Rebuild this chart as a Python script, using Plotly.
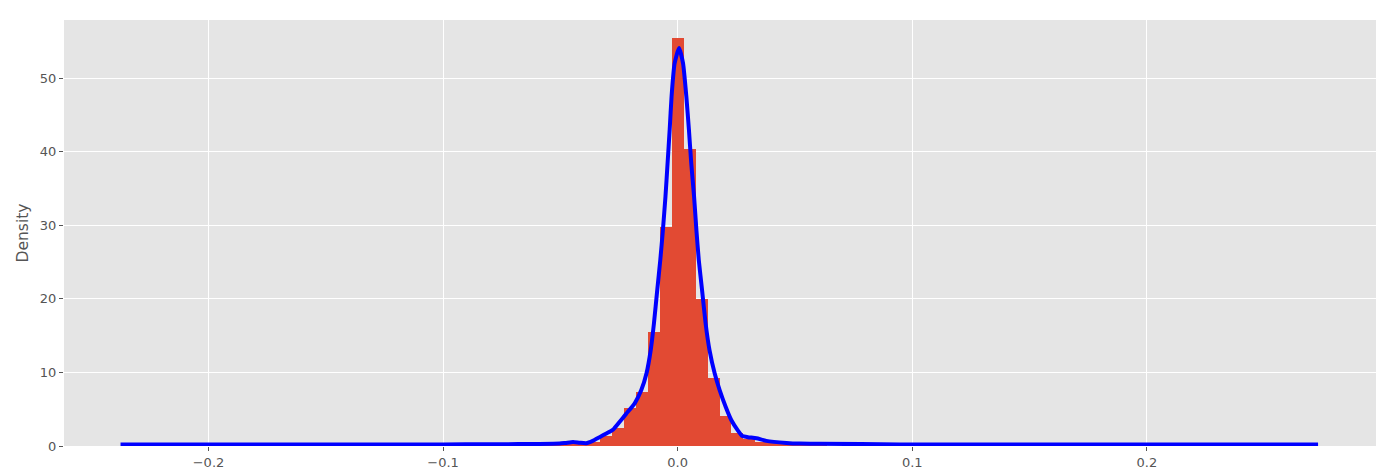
import plotly.graph_objects as go

# Histogram (density)
bin_centers = [-0.0612, -0.0561, -0.0510, -0.0459, -0.0408, -0.0357, -0.0306, -0.0255,
               -0.0204, -0.0153, -0.0102, -0.0051, 0.0, 0.0051, 0.0102, 0.0153, 0.0204,
               0.0255, 0.0306, 0.0357, 0.0408, 0.0459, 0.0510, 0.0561, 0.0612]
density = [0.1, 0.15, 0.2, 0.3, 0.4, 0.5, 1.3, 2.5, 5.1, 7.35, 15.5, 29.8, 55.4,
           40.3, 20.0, 9.3, 4.1, 1.7, 1.0, 0.6, 0.4, 0.3, 0.2, 0.15, 0.1]

# KDE curve
kde_x = [-0.2375, -0.20, -0.15, -0.10, -0.08, -0.068, -0.059, -0.0503, -0.0478, -0.0446,
         -0.0418, -0.0390, -0.0362, -0.0333, -0.0304, -0.0276, -0.0247, -0.0219, -0.0183,
         -0.0155, -0.0133, -0.0115, -0.0101, -0.0087, -0.0074, -0.0063, -0.0052, -0.0043,
         -0.0034, -0.0026, -0.0013, 0.0006, 0.0023, 0.0037, 0.0048, 0.0058, 0.0070,
         0.0080, 0.0090, 0.0104, 0.0119, 0.0136, 0.0158, 0.0179, 0.0205, 0.0229, 0.0257,
         0.0276, 0.0299, 0.0336, 0.0378, 0.0464, 0.0520, 0.0606, 0.0947, 0.15, 0.20, 0.273]
kde_y = [0.2, 0.2, 0.2, 0.22, 0.24, 0.26, 0.28, 0.33, 0.42, 0.55, 0.45, 0.38, 0.7, 1.2,
         1.7, 2.2, 3.3, 4.4, 5.8, 7.6, 9.85, 13.0, 16.7, 21.2, 25.3, 29.3, 33.9, 38.4,
         43.0, 47.5, 52.0, 54.1, 52.0, 47.5, 43.0, 38.4, 33.9, 29.3, 25.3, 21.2, 16.7,
         13.0, 9.85, 7.6, 5.3, 3.5, 2.1, 1.35, 1.2, 1.05, 0.7, 0.42, 0.33, 0.3, 0.22,
         0.2, 0.2, 0.2]

x_ticks = [-0.2, -0.1, 0.0, 0.1, 0.2]
y_ticks = [0, 10, 20, 30, 40, 50]

bin_width = bin_centers[1] - bin_centers[0]

fig = go.Figure()
fig.add_trace(go.Bar(
    x=bin_centers, y=density, width=[bin_width] * len(bin_centers),
    marker=dict(color="#E24A33", line=dict(width=0)), showlegend=False,
))
fig.add_trace(go.Scatter(
    x=kde_x, y=kde_y, mode="lines",
    line=dict(color="#0000FF", width=4, shape="spline", smoothing=0.5),
    showlegend=False,
))

font_family = "DejaVu Sans"
fig.update_layout(
    width=1400, height=474,
    margin=dict(l=56, r=32, t=12, b=36),
    paper_bgcolor="white", plot_bgcolor="#E5E5E5",
    bargap=0,
    font=dict(family=font_family, color="#555555", size=13),
)
fig.update_xaxes(
    range=[-0.2616, 0.2977], tickvals=x_ticks, tickformat=".1f",
    showgrid=True, gridcolor="white", gridwidth=1.2, zeroline=False,
    ticks="outside", ticklen=4, tickcolor="#555555", tickwidth=1,
    tickfont=dict(size=13, color="#555555"), showline=False, automargin=False,
)
fig.update_yaxes(
    range=[0, 57.9], tickvals=y_ticks,
    showgrid=True, gridcolor="white", gridwidth=1.2, zeroline=False,
    ticks="outside", ticklen=4, tickcolor="#555555", tickwidth=1,
    tickfont=dict(size=13, color="#555555"), showline=False, automargin=False,
    title=dict(text="Density", font=dict(size=15.5, color="#555555"), standoff=7),
)

fig.write_html("out.html")
